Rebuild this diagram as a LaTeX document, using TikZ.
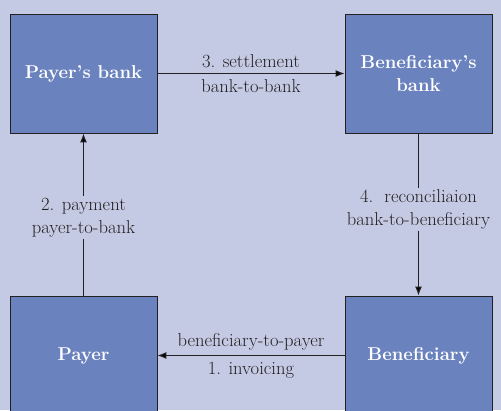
\documentclass[tikz,border=0pt]{standalone}
\usepackage{fontspec}
\usepackage{tikz}
\usetikzlibrary{positioning,arrows.meta}
\definecolor{bgcol}{RGB}{197,202,228}
\definecolor{boxcol}{RGB}{106,130,190}
\definecolor{linecol}{RGB}{35,32,34}

\begin{document}
\begin{tikzpicture}[x=1pt, y=1pt, >={Latex[length=9pt,width=7pt]},
        font=\fontsize{18.6}{23}\selectfont,
        party/.style={rectangle, draw=linecol, line width=0.9pt, fill=boxcol,
            text=white, font=\fontsize{18.6}{23}\selectfont\bfseries,
            align=center, minimum width=147pt, minimum height=119pt}]
        \fill[bgcol] (0,0) rectangle (501,410);
        \useasboundingbox (0,0) rectangle (501,410);
        \node[party] (payerbank) at (83.5,336.5) {Payer's bank};
        \node[party] (benbank) [right of=payerbank, node distance=335pt] {Beneficiary's\\bank};
        \node[party] (payer) [below of=payerbank, node distance=282pt] {Payer};
        \node[party] (ben) [below of=benbank, node distance=282pt] {Beneficiary};

        \path[->, draw=linecol, line width=1.1pt, text=linecol]
            (payerbank) edge node [above, inner sep=5pt] {3. settlement}
                             node [below, inner sep=6pt] {bank-to-bank} (benbank)
            (payer) edge node [pos=0.48, fill=bgcol, align=center, inner sep=2pt] {2. payment\\payer-to-bank} (payerbank)
            (benbank) edge node [pos=0.47, fill=bgcol, align=center, inner sep=2pt] {4.~~reconciliaion\\bank-to-beneficiary} (ben)
            (ben) edge node [above, inner sep=5pt] {beneficiary-to-payer}
                       node [below, inner sep=6pt] {1. invoicing} (payer)
        ;
    \end{tikzpicture}
\end{document}
